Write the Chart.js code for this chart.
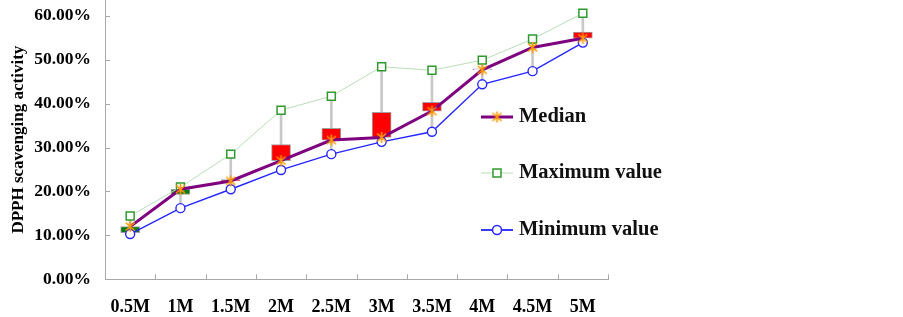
<!DOCTYPE html>
<html>
<head>
<meta charset="utf-8">
<script src="https://cdn.jsdelivr.net/npm/chart.js@4/dist/chart.umd.min.js"></script>
<style>
  html, body { margin:0; padding:0; background:#fff; }
  #wrap { width:903px; height:317px; }
</style>
</head>
<body>
<div id="wrap"><canvas id="c" width="903" height="317"></canvas></div>
<script>

/* data (percent) */
let categories = ["0.5M","1M","1.5M","2M","2.5M","3M","3.5M","4M","4.5M","5M"];

let medianValues = [12.0, 20.5, 22.4, 27.0, 31.7, 32.3, 38.3, 47.7, 52.8, 54.9];
let maxValues    = [14.4, 21.0, 28.5, 38.5, 41.7, 48.4, 47.6, 49.9, 54.7, 60.6];
let minValues    = [10.3, 16.2, 20.5, 24.9, 28.5, 31.3, 33.6, 44.4, 47.4, 53.9];

/* open value of the up/down bars (close = median) */
let openValues   = [10.6, 19.3, 22.7, 30.7, 34.4, 38.0, 40.3, 47.7, null, 56.3];

let yTicks = [0, 10, 20, 30, 40, 50, 60];

let serif = "'Liberation Serif', 'Times New Roman', serif";

/* asterisk marker */
function makeStar(){

   let s = document.createElement("canvas");
   s.width = 13; s.height = 13;
   let g = s.getContext("2d");
   g.strokeStyle = "#FF9900";
   g.lineWidth = 1.6;
   g.beginPath();
   g.moveTo(6.5,1);  g.lineTo(6.5,12);
   g.moveTo(2,2.5);  g.lineTo(11,10.5);
   g.moveTo(11,2.5); g.lineTo(2,10.5);
   g.stroke();
   return s;

}

let starImg = makeStar();

let highLowData =
   categories.map((c,i)=>[minValues[i], maxValues[i]]);

let upDownData =
   categories.map((c,i)=>
      openValues[i] === null ? null : [openValues[i], medianValues[i]]
   );

function barColor(ctx){

   let v = ctx.raw;
   if(!v) return "rgba(0,0,0,0)";
   if(v[0] < v[1]) return "#0B7A0B";
   if(v[0] > v[1]) return "#FF0000";
   return "rgba(0,0,0,0)";

}

/* small tick marks on the inner side of both axes */
let innerTicks = {

   id: "innerTicks",

   afterDraw(chart){

      let ctx = chart.ctx;
      let xs = chart.scales.x;
      let ys = chart.scales.y;

      ctx.save();
      ctx.strokeStyle = "#a8a8a8";
      ctx.lineWidth = 1;
      ctx.beginPath();

      yTicks.forEach(function(t){
         let y = Math.round(ys.getPixelForValue(t)) + 0.5;
         ctx.moveTo(xs.left, y);
         ctx.lineTo(xs.left + 5, y);
      });

      let step = (xs.right - xs.left) / categories.length;
      for(let i = 1; i <= categories.length; i++){
         let x = Math.round(xs.left + i * step) + 0.5;
         ctx.moveTo(x, ys.bottom);
         ctx.lineTo(x, ys.bottom - 5);
      }

      ctx.stroke();
      ctx.restore();

   }

};

/* legend drawn over the right part of the plot */
let sideLegend = {

   id: "sideLegend",

   afterDraw(chart){

      let ctx = chart.ctx;
      let items = [
         { label:"Median",        color:"#7F007F", width:3,   mark:"star",   y:117 },
         { label:"Maximum value", color:"#B8DDB8", width:1,   mark:"square", y:173 },
         { label:"Minimum value", color:"#3A3AFF", width:2,   mark:"circle", y:230 }
      ];

      ctx.save();

      items.forEach(function(it){

         ctx.strokeStyle = it.color;
         ctx.lineWidth = it.width;
         ctx.beginPath();
         ctx.moveTo(481, it.y);
         ctx.lineTo(513, it.y);
         ctx.stroke();

         if(it.mark === "star"){
            ctx.drawImage(starImg, 497 - 6.5, it.y - 6.5);
         }
         if(it.mark === "square"){
            ctx.fillStyle = "#fff";
            ctx.fillRect(493, it.y - 4, 8, 8);
            ctx.strokeStyle = "#2E9A2E";
            ctx.lineWidth = 1.5;
            ctx.strokeRect(493, it.y - 4, 8, 8);
         }
         if(it.mark === "circle"){
            ctx.fillStyle = "#fff";
            ctx.strokeStyle = "#2626FF";
            ctx.lineWidth = 1.5;
            ctx.beginPath();
            ctx.arc(497, it.y, 4.5, 0, Math.PI*2);
            ctx.fill();
            ctx.stroke();
         }

         ctx.fillStyle = "#111";
         ctx.font = "bold 20.5px " + serif;
         ctx.textBaseline = "middle";
         ctx.textAlign = "left";
         ctx.fillText(it.label, 519, it.y);

      });

      ctx.restore();

   }

};

new Chart(document.getElementById("c"), {

   type: "bar",

   data: {

      labels: categories,

      datasets: [

         {
            type: "line",
            label: "Median",
            data: medianValues,
            borderColor: "#7F007F",
            borderWidth: 3,
            pointStyle: starImg,
            pointRadius: 6,
            order: 0
         },

         {
            type: "line",
            label: "Maximum value",
            data: maxValues,
            borderColor: "#B8DDB8",
            borderWidth: 1,
            pointStyle: "rect",
            pointRadius: 5.6,
            pointBorderColor: "#2E9A2E",
            pointBackgroundColor: "#fff",
            pointBorderWidth: 1.5,
            order: 0
         },

         {
            type: "line",
            label: "Minimum value",
            data: minValues,
            borderColor: "#2626FF",
            borderWidth: 1.4,
            pointStyle: "circle",
            pointRadius: 4.5,
            pointBorderColor: "#2626FF",
            pointBackgroundColor: "#fff",
            pointBorderWidth: 1.4,
            order: 0
         },

         {
            label: "updown",
            data: upDownData,
            backgroundColor: barColor,
            borderColor: "#a0a0a0",
            borderWidth: 1,
            borderSkipped: false,
            barThickness: 19,
            minBarLength: 1,
            grouped: false,
            order: 1
         },

         {
            label: "highlow",
            data: highLowData,
            backgroundColor: "#C8C8C8",
            borderWidth: 0,
            barThickness: 2,
            grouped: false,
            order: 2
         }

      ]

   },

   options: {

      responsive: false,
      animation: false,

      layout: {
         autoPadding: false,
         padding: { left:0, right:295, top:0, bottom:0 }
      },

      plugins: {
         legend: { display:false },
         tooltip: { enabled:false }
      },

      scales: {

         x: {
            offset: true,
            grid: { display:false, offset:true, drawTicks:false },
            border: { display:true, color:"#a8a8a8", width:1 },
            ticks: {
               color: "#000",
               font: { family: serif, size: 18, weight: "bold" },
               padding: 17,
               maxRotation: 0
            },
            afterFit: function(scale){
               scale.height = 37.7;
               scale.paddingLeft = 0;
               scale.paddingRight = 0;
            }
         },

         y: {
            min: 0,
            max: 63.6,
            grid: { display:false, drawTicks:false },
            border: { display:true, color:"#a8a8a8", width:1 },
            ticks: {
               stepSize: 10,
               color: "#000",
               padding: 14,
               font: { family: serif, size: 17.5, weight: "bold" },
               callback: function(v){ return v.toFixed(2) + "%"; }
            },
            afterBuildTicks: function(scale){
               scale.ticks = yTicks.map(v=>({ value:v }));
            },
            title: {
               display: true,
               text: "DPPH scavenging activity",
               color: "#000",
               font: { family: serif, size: 17, weight: "bold" },
               padding: { top:8, bottom:0 }
            },
            afterFit: function(scale){
               scale.width = 105;
               scale.paddingTop = 0;
               scale.paddingBottom = 0;
            }
         }

      }

   },

   plugins: [innerTicks, sideLegend]

});

</script>
</body>
</html>
